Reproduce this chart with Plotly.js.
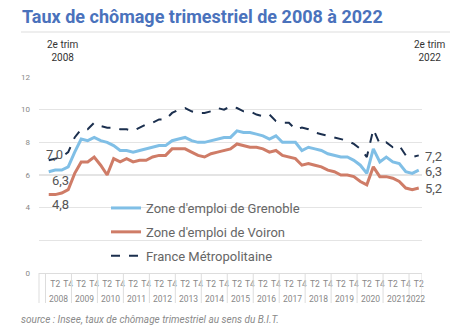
<!DOCTYPE html>
<html>
<head>
<meta charset="utf-8">
<script src="https://cdn.plot.ly/plotly-3.0.1.min.js"></script>
<style>
  html, body { margin: 0; padding: 0; background: #fff; }
  #chart { width: 462px; height: 335px; }
</style>
</head>
<body>
<div id="chart"></div>
<script>
// Years and quarters of the category axis (only T2 and T4 are labelled)
const years = [2008, 2009, 2010, 2011, 2012, 2013, 2014, 2015, 2016, 2017, 2018, 2019, 2020, 2021, 2022];
const quarterLabels = ['T1', 'T2', 'T3', 'T4'];
const shownQuarters = ['T2', 'T4'];
const lastYearQuarters = 2;

// Quarterly unemployment rate (%)
const grenoble = [6.2, 6.3, 6.3, 6.5, 7.4, 8.2, 8.1, 8.3, 8.1, 8.0, 7.8, 7.5, 7.5, 7.4, 7.5, 7.6,
  7.7, 7.8, 7.8, 8.1, 8.2, 8.3, 8.1, 8.0, 8.0, 8.1, 8.2, 8.3, 8.3, 8.7, 8.6, 8.6,
  8.5, 8.4, 8.2, 8.4, 8.0, 8.0, 8.0, 7.5, 7.7, 7.6, 7.5, 7.3, 7.2, 7.1, 7.1, 6.9,
  6.6, 6.1, 7.6, 6.8, 7.1, 6.8, 6.7, 6.2, 6.1, 6.3];
const voiron = [4.8, 4.8, 4.9, 5.1, 6.1, 6.8, 6.8, 7.1, 6.6, 6.0, 7.0, 6.8, 7.0, 6.8, 6.9, 6.9,
  7.1, 7.2, 7.2, 7.6, 7.6, 7.6, 7.4, 7.2, 7.1, 7.3, 7.4, 7.5, 7.6, 7.9, 7.8, 7.7,
  7.7, 7.6, 7.4, 7.5, 7.2, 7.1, 7.0, 6.6, 6.7, 6.6, 6.5, 6.3, 6.2, 6.0, 6.0, 5.9,
  5.6, 5.4, 6.5, 5.9, 5.9, 5.8, 5.6, 5.2, 5.1, 5.2];
const france = [6.9, 7.0, 7.1, 7.4, 8.3, 8.8, 8.8, 9.2, 9.0, 8.9, 8.9, 8.8, 8.8, 8.7, 8.9, 9.1,
  9.2, 9.4, 9.4, 9.8, 10.0, 10.1, 9.9, 9.8, 9.8, 9.9, 10.1, 10.0, 10.2, 10.1, 9.9, 9.9,
  9.7, 9.6, 9.7, 9.3, 9.2, 9.2, 8.8, 8.9, 8.8, 8.6, 8.5, 8.4, 8.3, 8.2, 8.1, 7.9,
  7.6, 7.1, 8.8, 7.9, 8.0, 7.7, 7.8, 7.2, 7.1, 7.2];

const seriesNames = ["Zone d'emploi de Grenoble", "Zone d'emploi de Voiron", "France Métropolitaine"];
const startLabels = ['7,0', '6,3', '4,8'];
const endLabels = ['7,2', '6,3', '5,2'];
const yTicks = [0, 2, 4, 6, 8, 10, 12];
const yTickText = ['0', '', '4', '6', '8', '10', '12'];

const FONT = 'Roboto, "Open Sans", sans-serif';
const L = 39, W = 383;
function pxX(px) { return (px - L) / W; }
function pxY(py) { return (273 - py) / 196; }

// Build the category axis: one category per quarter
const cats = [], tickVals = [], tickText = [];
const yearAnn = [], dividers = [];
years.forEach((y, k) => {
  const n = (k === years.length - 1) ? lastYearQuarters : quarterLabels.length;
  const first = cats.length;
  dividers.push(first - 0.5);
  for (let q = 0; q < n; q++) {
    const c = quarterLabels[q] + ' ' + y;
    if (shownQuarters.includes(quarterLabels[q])) { tickVals.push(c); tickText.push(quarterLabels[q]); }
    cats.push(c);
  }
  const mid = (first + cats.length - 1) / 2;
  yearAnn.push({ text: String(y), xref: 'x', yref: 'paper', x: mid, y: pxY(299), xanchor: 'center', yanchor: 'middle',
    showarrow: false, font: { family: FONT, size: 8.5, color: '#888' } });
});
dividers.push(cats.length - 0.5);

const traces = [
  { x: cats, y: grenoble, name: seriesNames[0], type: 'scatter', mode: 'lines',
    line: { color: '#80bfe6', width: 3 }, legendgroup: 'g1', hoverinfo: 'y' },
  { x: cats, y: voiron, name: seriesNames[1], type: 'scatter', mode: 'lines',
    line: { color: '#cf7c67', width: 3 }, legendgroup: 'g2', hoverinfo: 'y' },
  { x: cats, y: france, name: seriesNames[2], type: 'scatter', mode: 'lines',
    line: { color: '#1b2f4e', width: 2, dash: 'dash' }, legendgroup: 'g3', hoverinfo: 'y' }
];

const labelFont = { family: FONT, size: 13, color: '#555' };
function note(text, px, py, xanchor, font) {
  return { text: text, xref: 'paper', yref: 'paper', x: pxX(px), y: pxY(py),
    xanchor: xanchor, yanchor: 'middle', showarrow: false, font: font, align: 'center' };
}
const trimFont = { family: FONT, size: 10, color: '#333' };
const annotations = [
  note('2e trim<br>2008', 62, 51, 'center', trimFont),
  note('2e trim<br>2022', 429, 51, 'center', trimFont),
  note(startLabels[0], 54.5, 154.5, 'center', labelFont),
  note(startLabels[1], 60.5, 180.5, 'center', labelFont),
  note(startLabels[2], 60.5, 204.5, 'center', labelFont),
  note(endLabels[0], 423, 156, 'left', labelFont),
  note(endLabels[1], 423, 171, 'left', labelFont),
  note(endLabels[2], 423, 188.7, 'left', labelFont),
  note('<i>source : Insee, taux de chômage trimestriel au sens du B.I.T.</i>', 19, 319, 'left',
    { family: FONT, size: 10, color: '#8a8a8a' })
].concat(yearAnn);

const shapes = [
  { type: 'line', xref: 'paper', yref: 'paper', x0: pxX(21), x1: pxX(450), y0: pxY(32), y1: pxY(32),
    line: { color: '#dddddd', width: 1 } },
  { type: 'line', xref: 'paper', yref: 'paper', x0: 0, x1: 0, y0: 0, y1: pxY(303),
    line: { color: '#dddddd', width: 1 } }
].concat(dividers.map(d => ({ type: 'line', xref: 'x', yref: 'paper', x0: d, x1: d, y0: 0, y1: pxY(303),
    line: { color: '#dddddd', width: 1 } })));

const layout = {
  width: 462, height: 335,
  margin: { l: L, r: 462 - L - W, t: 77, b: 62, pad: 0 },
  paper_bgcolor: '#ffffff', plot_bgcolor: '#ffffff',
  font: { family: FONT, color: '#555' },
  title: { text: 'Taux de chômage trimestriel de 2008 à 2022', xref: 'container', yref: 'container',
    x: 22 / 462, xanchor: 'left', y: 1 - 17 / 335, yanchor: 'middle',
    font: { family: FONT, size: 18, color: '#4a72bc', weight: 'bold' } },
  xaxis: {
    type: 'category', range: [-1.5, 57.5], autorange: false,
    tickmode: 'array', tickvals: tickVals, ticktext: tickText, tickangle: 0,
    showgrid: false, zeroline: false, showline: true, linecolor: '#dddddd', linewidth: 1,
    ticks: '', ticklabelstandoff: 3,
    tickfont: { family: FONT, size: 8.5, color: '#888' }, automargin: false, fixedrange: true
  },
  yaxis: {
    range: [0, 12], autorange: false, tickmode: 'array', tickvals: yTicks, ticktext: yTickText,
    showgrid: true, gridcolor: '#e4e4e4', gridwidth: 1.5, zeroline: false, showline: false,
    ticks: '', ticklabelstandoff: 8,
    tickfont: { family: FONT, size: 8, color: '#888' }, automargin: false, fixedrange: true
  },
  showlegend: true,
  legend: {
    x: pxX(106), xanchor: 'left', y: pxY(193), yanchor: 'top',
    bgcolor: 'rgba(0,0,0,0)', traceorder: 'grouped', tracegroupgap: 4,
    font: { family: FONT, size: 13, color: '#666' }
  },
  annotations: annotations,
  shapes: shapes
};

Plotly.newPlot('chart', traces, layout, { displayModeBar: false, staticPlot: true });
</script>
</body>
</html>
